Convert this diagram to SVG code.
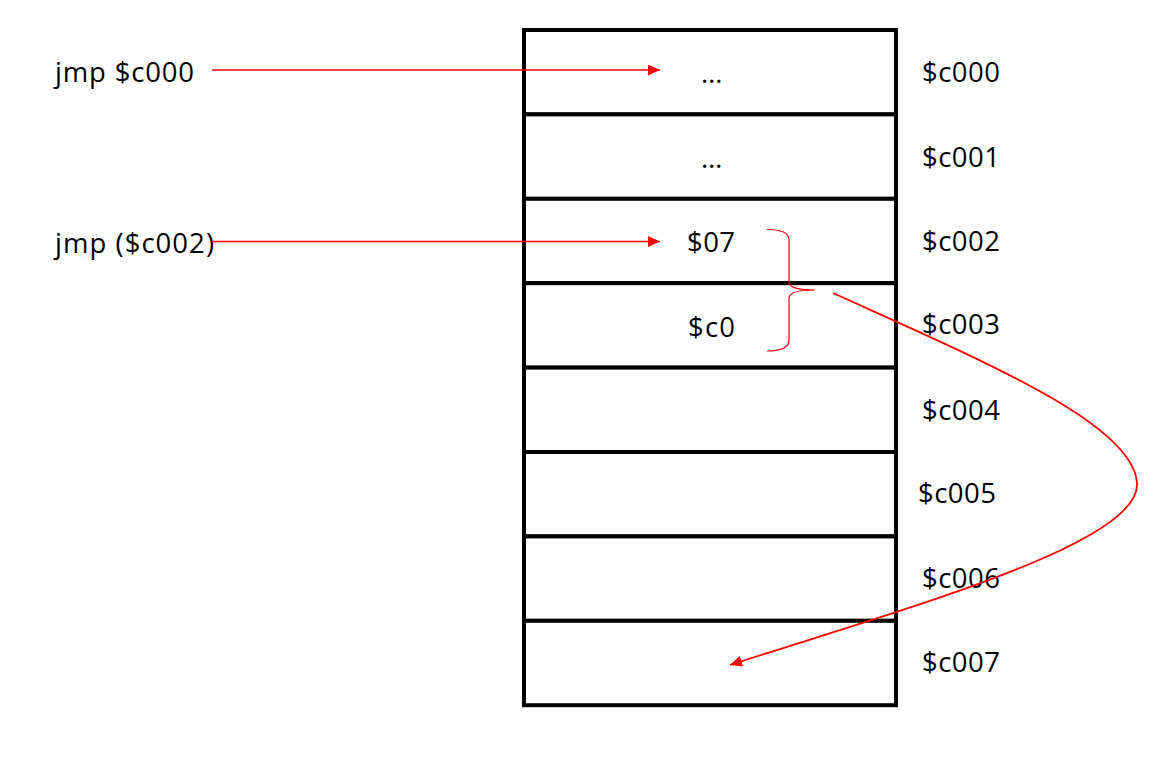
<svg xmlns="http://www.w3.org/2000/svg" width="1166" height="759" viewBox="0 0 1166 759">
<style>
.cell{fill:#fff;stroke:#000;stroke-width:4}
.t{font-family:"Open Sans","Noto Sans",sans-serif;font-size:27.5px;fill:#000}
.arr{fill:none;stroke:#f00;stroke-width:1.3}
.crv{fill:none;stroke:#f00;stroke-width:1.8}
.brace{fill:none;stroke:#f00;stroke-width:1.2}
</style>
<defs>
<marker id="ah" markerUnits="userSpaceOnUse" markerWidth="12" markerHeight="11" refX="12" refY="5.5" orient="auto">
<path d="M0,0 L12,5.5 L0,11 z" fill="#f00"/>
</marker>
</defs>
<rect width="1166" height="759" fill="#fff"/>
<g id="memory">
<g id="cell-c000"><rect class="cell" x="524" y="30" width="372" height="84.4"/><text class="t" x="701" y="83" textLength="22">…</text><text class="t" x="922" y="82" textLength="78">$c000</text></g>
<g id="cell-c001"><rect class="cell" x="524" y="114.4" width="372" height="84.4"/><text class="t" x="701" y="168" textLength="22">…</text><text class="t" x="922" y="167" textLength="78">$c001</text></g>
<g id="cell-c002"><rect class="cell" x="524" y="198.8" width="372" height="84.4"/><text class="t" x="687" y="252" textLength="48">$07</text><text class="t" x="922" y="251" textLength="78">$c002</text></g>
<g id="cell-c003"><rect class="cell" x="524" y="283.2" width="372" height="84.4"/><text class="t" x="688" y="337" textLength="47">$c0</text><text class="t" x="922" y="334" textLength="78">$c003</text></g>
<g id="cell-c004"><rect class="cell" x="524" y="367.6" width="372" height="84.4"/><text class="t" x="922" y="420" textLength="78">$c004</text></g>
<g id="cell-c005"><rect class="cell" x="524" y="452" width="372" height="84.4"/><text class="t" x="918" y="503" textLength="78">$c005</text></g>
<g id="cell-c006"><rect class="cell" x="524" y="536.4" width="372" height="84.4"/><text class="t" x="922" y="588" textLength="78">$c006</text></g>
<g id="cell-c007"><rect class="cell" x="524" y="620.8" width="372" height="84.4"/><text class="t" x="922" y="672" textLength="78">$c007</text></g>
</g>
<g id="jmp-abs"><text class="t" x="55" y="82" textLength="139">jmp $c000</text></g>
<g id="jmp-ind"><text class="t" x="55" y="253" textLength="159">jmp ($c002)</text></g>
<g id="brace-node"><path class="brace" d="M767,229.5 Q789,229.5 789,240 L789,282 Q789,290 815,290 Q789,290 789,298 L789,340 Q789,351 767,351"/></g>
<g id="connectors">
<line class="arr" x1="212" y1="70" x2="660" y2="70" marker-end="url(#ah)"/>
<line class="arr" x1="212" y1="241.5" x2="660" y2="241.5" marker-end="url(#ah)"/>
<path class="crv" d="M833,293 C983,361 1137,425 1137,485 C1137,545 900,610 730,665" marker-end="url(#ah)"/>
</g>
</svg>
